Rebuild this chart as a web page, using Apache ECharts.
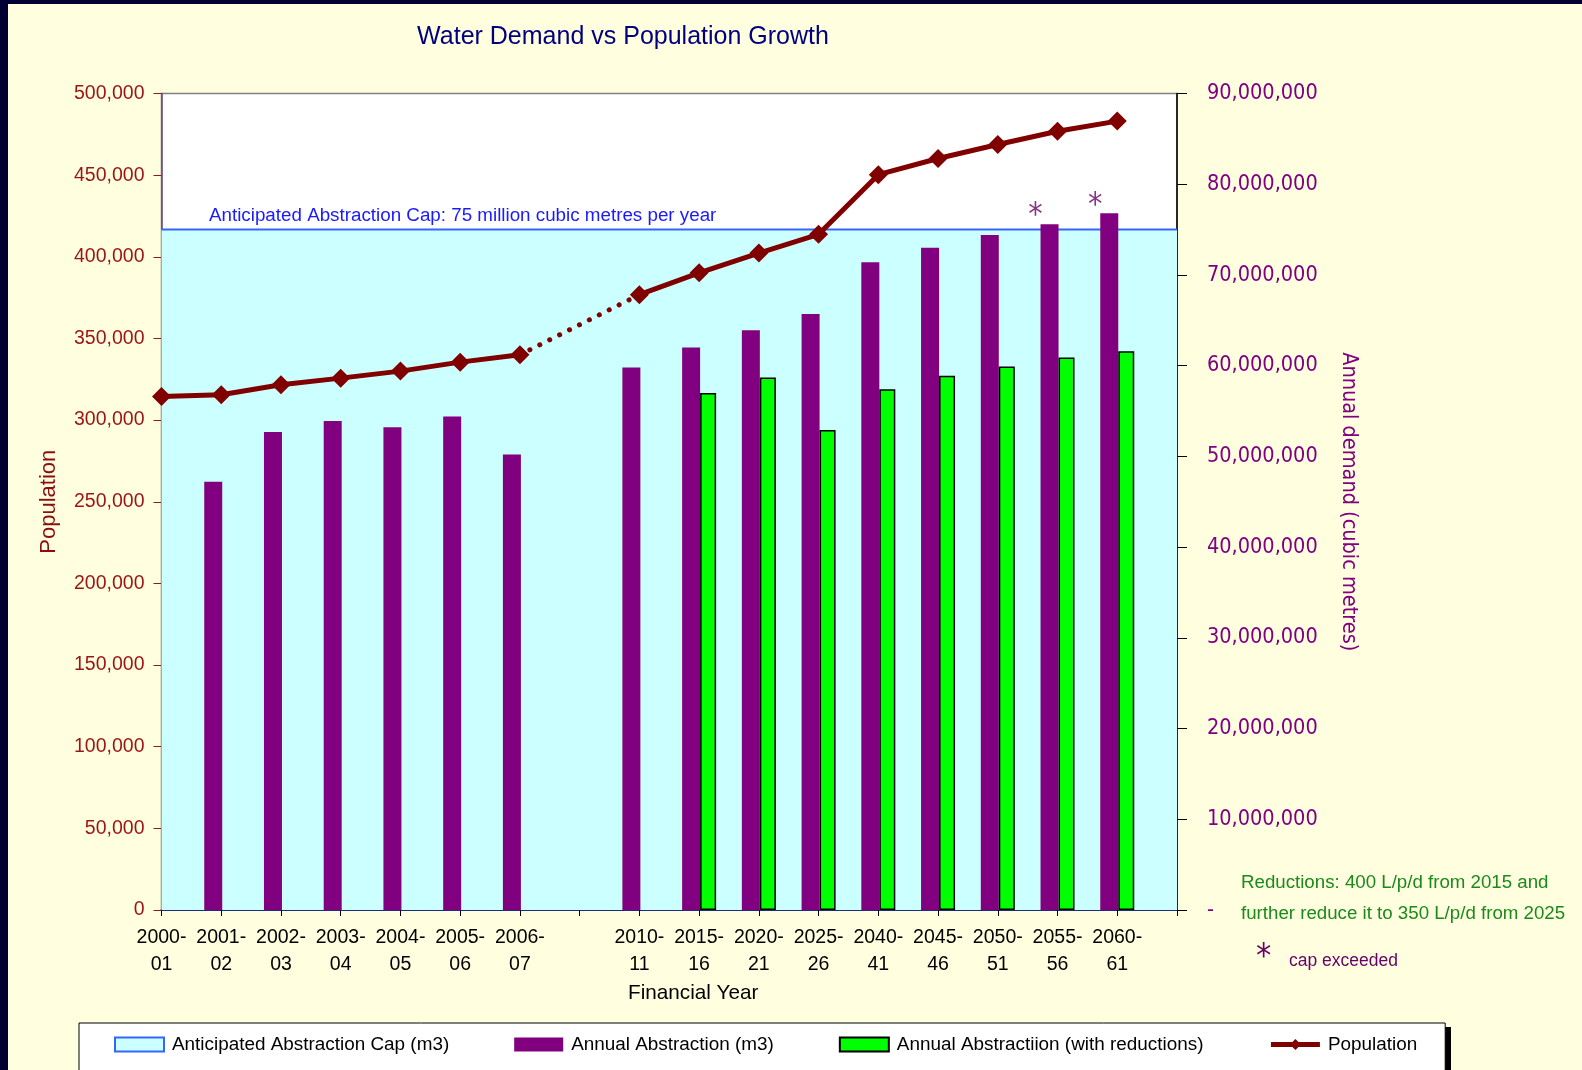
<!DOCTYPE html>
<html>
<head>
<meta charset="utf-8">
<script src="https://cdn.jsdelivr.net/npm/echarts@6/dist/echarts.min.js"></script>
<style>
html,body{margin:0;padding:0;background:#FFFFE0;}
#chart{width:1582px;height:1070px;}
</style>
</head>
<body>
<div id="chart"></div>
<script>
// ---- data ----
var categories = ['2000-01','2001-02','2002-03','2003-04','2004-05','2005-06','2006-07','','2010-11','2015-16','2020-21','2025-26','2040-41','2045-46','2050-51','2055-56','2060-61',''];
var capValue = 75000000;
var capSeries = [75000000,75000000,75000000,75000000,75000000,75000000,75000000,75000000,75000000,75000000,75000000,75000000,75000000,75000000,75000000,75000000,75000000,75000000];
var abstraction = [null,47200000,52700000,53900000,53200000,54400000,50200000,null,59800000,62000000,63900000,65700000,71400000,73000000,74400000,75600000,76800000,null];
var abstractionReduced = [null,null,null,null,null,null,null,null,null,57000000,58700000,52900000,57400000,58900000,59900000,60900000,61600000,null];
var population = [314500,315500,321600,325700,330000,335500,340000,null,376800,390200,402300,413800,450300,460200,468800,476900,483100,null];
var leftTicks = {min:0, max:500000, interval:50000};
var rightTicks = {min:0, max:90000000, interval:10000000};

var ARIAL = "'Liberation Sans',Arial,sans-serif";
var TAHOMA = "'DejaVu Sans Condensed','DejaVu Sans',sans-serif";

// dotted bridge across the gap in population
var bridge = population.map(function(v,i){
  var gapAfter = (i+1 < population.length-1) && population[i+1] == null && population[i+2] != null;
  var gapBefore = i>1 && population[i-1] == null && population[i-2] != null;
  return (v != null && (gapAfter || gapBefore)) ? v : null;
});
var stars = abstraction.map(function(v){ return (v != null && v > capValue) ? v : null; });

var chart = echarts.init(document.getElementById('chart'));
chart.setOption({
  backgroundColor:'#FFFFE0',
  animation:false,
  title:{
    text:'Water Demand vs Population Growth',
    left:618, top:20, textAlign:'center',
    textStyle:{color:'#000080', fontFamily:ARIAL, fontSize:25, fontWeight:'normal'}
  },
  grid:{left:161.5, right:405, top:93.5, bottom:160, show:true, backgroundColor:'#ffffff', borderColor:'#808080', borderWidth:1.5},
  legend:{
    left:79, top:1023, z:10,
    itemWidth:49, itemHeight:14, itemGap:65,
    padding:[12,28,40,35],
    backgroundColor:'#ffffff', borderColor:'#000000', borderWidth:1,
    textStyle:{fontFamily:ARIAL, fontSize:18.9, color:'#000', padding:[0,0,0,3]},
    data:[
      {name:'Anticipated Abstraction Cap (m3)', icon:'rect', itemStyle:{color:'#CCFFFF', borderColor:'#3366FF', borderWidth:2}},
      {name:'Annual Abstraction (m3)', icon:'rect'},
      {name:'Annual Abstractiion (with reductions)', icon:'rect'},
      {name:'Population', lineStyle:{width:5, color:'#800000'}, itemStyle:{color:'#800000'}}
    ]
  },
  xAxis:{
    type:'category', data:categories, boundaryGap:false,
    name:'Financial Year', nameLocation:'middle', nameGap:72,
    nameTextStyle:{fontFamily:ARIAL, fontSize:20.7, color:'#000', padding:[0,0,0,48]},
    axisLine:{lineStyle:{color:'#1c2c80', width:2}},
    axisTick:{show:true, inside:false, length:6, lineStyle:{color:'#000'}, interval:0},
    axisLabel:{interval:0, margin:14, fontFamily:ARIAL, fontSize:19.5, color:'#000', lineHeight:27,
      formatter:function(v){ return v ? v.replace('-', '-\n') : ''; }},
    splitLine:{show:false}
  },
  yAxis:[
    {
      type:'value', position:'left', min:leftTicks.min, max:leftTicks.max, interval:leftTicks.interval,
      name:'Population', nameLocation:'middle', nameGap:102, nameRotate:90,
      nameTextStyle:{fontFamily:ARIAL, fontSize:22, color:'#8b0d0d'},
      axisLine:{show:true, lineStyle:{color:'#604890', width:1.5}},
      axisTick:{show:true, length:8, lineStyle:{color:'#8b1a1a'}},
      axisLabel:{margin:17, fontFamily:ARIAL, fontSize:19.5, color:'#9b1515',
        formatter:function(v){ return v.toLocaleString('en-US'); }},
      splitLine:{show:false}
    },
    {
      type:'value', position:'right', min:rightTicks.min, max:rightTicks.max, interval:rightTicks.interval,
      name:'Annual demand (cubic metres)', nameLocation:'middle', nameGap:161, nameRotate:-90,
      nameTextStyle:{fontFamily:TAHOMA, fontSize:21.5, color:'#800080'},
      axisLine:{show:true, lineStyle:{color:'#000', width:1.5}},
      axisTick:{show:true, length:10, lineStyle:{color:'#000'}},
      axisLabel:{margin:30, fontFamily:TAHOMA, fontSize:21.5, color:'#800080',
        formatter:function(v){ return v === 0 ? '-' : v.toLocaleString('en-US'); }},
      splitLine:{show:false}
    }
  ],
  graphic:[
    {type:'rect', left:0, top:0, shape:{width:8, height:1070}, style:{fill:'#000033'}, z:100},
    {type:'rect', left:0, top:0, shape:{width:1582, height:4}, style:{fill:'#000033'}, z:100},
    {type:'rect', x:85, y:1027, shape:{width:1366, height:60}, style:{fill:'#000000'}, z:0},
    {type:'text', x:209, y:216, style:{text:'Anticipated Abstraction Cap: 75 million cubic metres per year', fill:'#1a1aff', font:'18.8px ' + ARIAL, verticalAlign:'middle'}, z:50},
    {type:'text', x:1241, y:883, style:{text:'Reductions: 400 L/p/d from 2015 and', fill:'#1a8a1a', font:'18.7px ' + ARIAL, verticalAlign:'middle'}},
    {type:'text', x:1241, y:914, style:{text:'further reduce it to 350 L/p/d from 2025', fill:'#1a8a1a', font:'18.7px ' + ARIAL, verticalAlign:'middle'}},
    {type:'text', x:1256, y:958, style:{text:'*', fill:'#660066', font:'34px ' + TAHOMA, verticalAlign:'middle'}},
    {type:'text', x:1289, y:961, style:{text:'cap exceeded', fill:'#660066', font:'17.5px ' + ARIAL, verticalAlign:'middle'}}
  ],
  series:[
    {
      name:'Anticipated Abstraction Cap (m3)', type:'line', yAxisIndex:1, data:capSeries,
      symbol:'none', z:1, silent:true,
      lineStyle:{color:'#3366FF', width:2},
      itemStyle:{color:'#CCFFFF'},
      areaStyle:{color:'#CCFFFF', opacity:1}
    },
    {
      name:'Annual Abstraction (m3)', type:'bar', yAxisIndex:1, data:abstraction,
      barWidth:18, barGap:'0%', z:2,
      itemStyle:{color:'#800080'}
    },
    {
      name:'Annual Abstractiion (with reductions)', type:'bar', yAxisIndex:1, data:abstractionReduced,
      barWidth:16, barGap:'0%', z:2,
      itemStyle:{color:'#00FF00', borderColor:'#000', borderWidth:1.5}
    },
    {
      name:'Population', type:'line', yAxisIndex:0, data:population,
      symbol:'diamond', symbolSize:19, connectNulls:false, z:4,
      lineStyle:{color:'#800000', width:5},
      itemStyle:{color:'#800000'}
    },
    {
      name:'Population gap', type:'line', yAxisIndex:0, data:bridge,
      symbol:'none', connectNulls:true, z:3, silent:true,
      lineStyle:{color:'#800000', width:5, type:[0.1, 11], cap:'round'}
    },
    {
      name:'cap exceeded', type:'scatter', yAxisIndex:1, data:stars,
      symbol:'circle', symbolSize:0, z:5, silent:true,
      label:{show:true, formatter:'*', position:'top', distance:2, offset:[-22, 10],
        color:'#660066', fontFamily:TAHOMA, fontSize:32}
    }
  ]
});
</script>
</body>
</html>
